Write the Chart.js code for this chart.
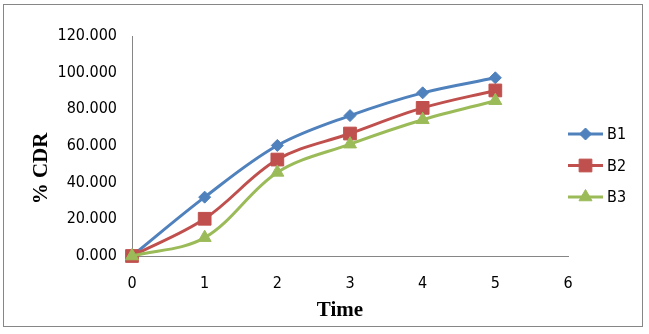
<!DOCTYPE html>
<html>
<head>
<meta charset="utf-8">
<script src="https://cdn.jsdelivr.net/npm/chart.js@4/dist/chart.umd.min.js"></script>
<style>
  html, body { margin: 0; padding: 0; background: #ffffff; }
  #wrap { position: relative; width: 649px; height: 334px; }
</style>
</head>
<body>
<div id="wrap"><canvas id="chart" width="649" height="334"></canvas></div>
<script>
// Cumulative drug release over time for three batches
const timePoints = [0, 1, 2, 3, 4, 5];
const seriesNames = ['B1', 'B2', 'B3'];
const b1Values = [0, 32.1, 60.3, 76.6, 89.0, 97.2];
const b2Values = [0, 20.3, 52.6, 66.8, 80.8, 90.3];
const b3Values = [0, 10.0, 45.6, 61.0, 74.3, 84.7];
const xTickValues = [0, 1, 2, 3, 4, 5, 6];
const yTickValues = [0, 20, 40, 60, 80, 100, 120];

const seriesColors = ['#4F81BD', '#C0504D', '#9BBB59'];
const seriesMarkers = ['rectRot', 'rect', 'triangle'];
const markerRadius = [6, 9, 7.5];
const seriesValues = [b1Values, b2Values, b3Values];

const tickFont = { family: "'DejaVu Sans Condensed', 'DejaVu Sans', sans-serif", size: 16 };
const titleFont = "bold 21px 'Liberation Serif', 'Times New Roman', serif";

const datasets = seriesNames.map((name, i) => ({
  label: name,
  data: timePoints.map((t, k) => ({ x: t, y: seriesValues[i][k] })),
  borderColor: seriesColors[i],
  backgroundColor: seriesColors[i],
  pointBackgroundColor: seriesColors[i],
  pointBorderColor: seriesColors[i],
  pointBorderWidth: 1,
  pointStyle: seriesMarkers[i],
  pointRadius: markerRadius[i],
  borderWidth: 3,
  tension: 0.35,
  order: seriesNames.length - 1 - i,
  clip: false
}));

// Outer frame around the whole chart
const framePlugin = {
  id: 'frame',
  beforeDraw(chart) {
    const ctx = chart.ctx;
    ctx.save();
    ctx.fillStyle = '#ffffff';
    ctx.fillRect(0, 0, chart.width, chart.height);
    ctx.strokeStyle = '#868686';
    ctx.lineWidth = 1;
    ctx.strokeRect(3.5, 4.5, 639, 322);
    ctx.restore();
  }
};

// Axis titles
const axisTitlePlugin = {
  id: 'axisTitles',
  afterDraw(chart) {
    const ctx = chart.ctx;
    ctx.save();
    ctx.fillStyle = '#000000';
    ctx.font = titleFont;
    ctx.textAlign = 'center';
    ctx.textBaseline = 'alphabetic';
    ctx.fillText('Time', 340, 316);
    ctx.translate(47, 168.5);
    ctx.rotate(-Math.PI / 2);
    ctx.fillText('% CDR', 0, 0);
    ctx.restore();
  }
};

// Legend entries: line sample with marker, then series name
const legendPlugin = {
  id: 'lineLegend',
  afterDraw(chart) {
    const ctx = chart.ctx;
    const x0 = 568, x1 = 603, top = 134, step = 31.5;
    chart.data.datasets.forEach((ds, i) => {
      const y = top + i * step;
      ctx.save();
      ctx.strokeStyle = ds.borderColor;
      ctx.lineWidth = ds.borderWidth;
      ctx.beginPath();
      ctx.moveTo(x0, y);
      ctx.lineTo(x1, y);
      ctx.stroke();
      ctx.fillStyle = ds.pointBackgroundColor;
      ctx.strokeStyle = ds.pointBorderColor;
      ctx.lineWidth = ds.pointBorderWidth;
      Chart.helpers.drawPoint(ctx, {
        pointStyle: ds.pointStyle,
        radius: ds.pointRadius,
        rotation: 0,
        borderWidth: ds.pointBorderWidth
      }, (x0 + x1) / 2, y);
      ctx.fillStyle = '#000000';
      ctx.font = `${tickFont.size}px ${tickFont.family}`;
      ctx.textAlign = 'left';
      ctx.textBaseline = 'middle';
      ctx.fillText(ds.label, 607, y + 1);
      ctx.restore();
    });
  }
};

new Chart(document.getElementById('chart'), {
  type: 'line',
  data: { datasets },
  options: {
    responsive: false,
    animation: false,
    devicePixelRatio: 1,
    layout: { padding: { left: 0, top: 36, right: 81, bottom: 0 } },
    plugins: {
      legend: { display: false },
      tooltip: { enabled: false },
      title: { display: false }
    },
    scales: {
      x: {
        type: 'linear',
        min: xTickValues[0],
        max: xTickValues[xTickValues.length - 1],
        afterBuildTicks(scale) { scale.ticks = xTickValues.map(v => ({ value: v })); },
        afterFit(scale) { scale.height = 78; },
        grid: { display: false, drawTicks: false },
        border: { display: true, color: '#868686', width: 1 },
        ticks: { color: '#000000', font: tickFont, padding: 18, maxRotation: 0 }
      },
      y: {
        type: 'linear',
        min: yTickValues[0],
        max: yTickValues[yTickValues.length - 1],
        afterBuildTicks(scale) { scale.ticks = yTickValues.map(v => ({ value: v })); },
        afterFit(scale) { scale.width = 132; },
        grid: { display: false, drawTicks: false },
        border: { display: true, color: '#868686', width: 1 },
        ticks: {
          color: '#000000',
          font: tickFont,
          padding: 15,
          callback: v => Number(v).toFixed(3)
        }
      }
    }
  },
  plugins: [framePlugin, axisTitlePlugin, legendPlugin]
});
</script>
</body>
</html>
